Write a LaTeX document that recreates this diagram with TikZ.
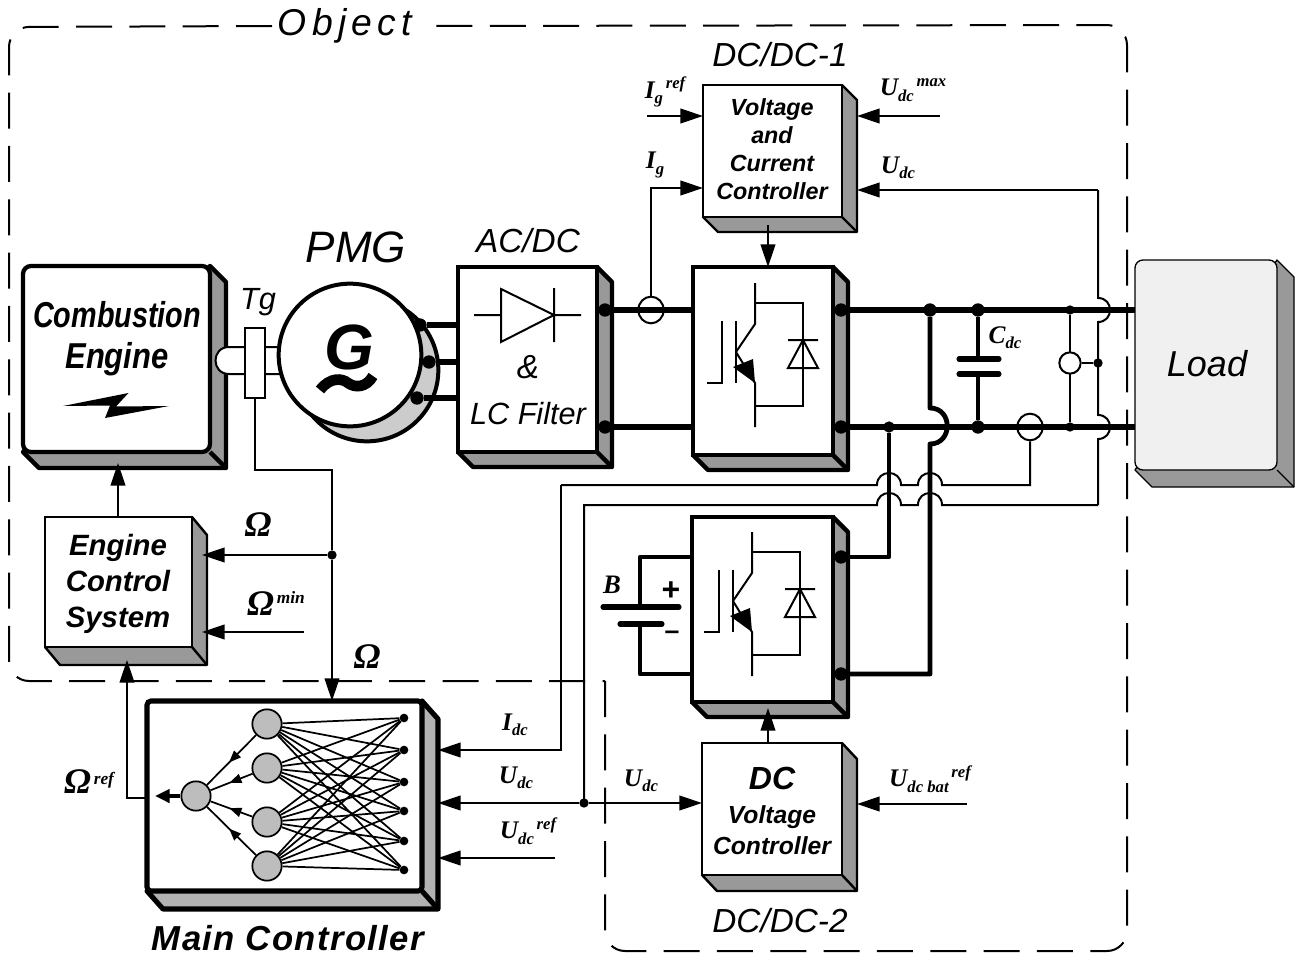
\documentclass[tikz,border=0pt]{standalone}
\usepackage{fontspec}
\setmainfont{Liberation Sans}
\newfontfamily\serifb{Liberation Serif}
\usetikzlibrary{arrows.meta,decorations.markings,shapes.geometric}
\definecolor{shade}{HTML}{999999}
\definecolor{shadelt}{HTML}{B2B2B2}
\definecolor{rotor}{HTML}{CCCCCC}
\definecolor{neuron}{HTML}{BDBDBD}
\definecolor{loadc}{HTML}{F0F0F0}
\tikzset{
  thinw/.style={line width=1.5pt},
  busw/.style={line width=4pt},
  arr/.style={thinw,-{Triangle[length=17pt,width=11pt]}},
  jdot/.style={circle,fill=black,inner sep=0pt,minimum size=#1},
  jdot/.default=9pt,
  sensor/.style={ellipse,draw,thinw,inner sep=0pt,minimum width=19pt,minimum height=20pt},
  neu/.style={circle,draw,line width=1.3pt,fill=neuron,inner sep=0pt,minimum size=22pt},
  syn/.style={line width=1.3pt},
  fwd/.style={line width=1.3pt,postaction={decorate},decoration={markings,mark=at position .55 with {\arrow{Triangle[length=9pt,width=7pt]}}}},
  ttl/.style={font=\itshape\fontsize{23}{27}\selectfont,inner sep=0pt},
  ttlb/.style={font=\itshape\fontsize{25}{27}\selectfont,inner sep=0pt},
  blk/.style={font=\bfseries\itshape,align=center,inner sep=0pt},
  sig/.style={inner sep=0pt,font=\serifb\bfseries\itshape},
  frontx/.style={},
  bnd/.style={line width=1.5pt,dash pattern=on 27pt off 13pt,rounded corners=15pt},
}
\newcommand{\threed}[9]{%
  \pgfmathsetmacro{\bw}{(#4-#2)*0.75}%
  \pgfmathsetmacro{\bh}{(#5-#3)*0.75}%
  \pgfmathsetmacro{\xa}{#4+#6}%
  \pgfmathsetmacro{\ya}{#3+#7}%
  \pgfmathsetmacro{\yb}{#5+#7}%
  \pgfmathsetmacro{\xb}{#2+#6}%
  \filldraw[fill=#9,line join=round,#8] (#4,#3)--(\xa,\ya)--(\xa,\yb)--(\xb,\yb)--(#2,#5)--cycle;
  \draw[#8] (#4,#5)--(\xa,\yb);
  \node[draw,fill=white,inner sep=0pt,outer sep=0pt,anchor=north west,minimum width=\bw pt,minimum height=\bh pt,#8,frontx] (#1) at (#2,#3) {};
}
\newcommand{\lab}[3]{{\fontsize{19}{19}\selectfont #1}\raisebox{-4pt}{\fontsize{12.5}{12}\selectfont #2}\raisebox{7pt}{\fontsize{12.5}{12}\selectfont #3}}
\newcommand{\igbt}[2]{%
\begin{scope}[shift={(#1,#2)},line width=1.5pt]
  \draw (62,16)--(62,57)--(43,85)--(62,116)--(62,160);
  \draw (62,36)--(110,36)--(110,139)--(62,139);
  \draw (43,54)--(43,116);
  \draw (29,54)--(29,116)--(14,116);
  \fill (62,116)--(40,100)--(60,92)--cycle;
  \draw (95,73)--(125,73) (110,73)--(95,101)--(125,101)--cycle;
\end{scope}}
\begin{document}
\begin{tikzpicture}[x=0.75pt,y=-0.75pt]
\useasboundingbox (0,0) rectangle (1297,956);
\fill[white] (0,0) rectangle (1297,956);
% object boundary
\node[inner sep=0pt,font=\itshape\fontsize{28}{30}\selectfont\addfontfeature{LetterSpace=14}] (obj) at (345,26) {Object};
\coordinate (bs) at (272,26);
\coordinate (be) at (424,26);
\coordinate (bc) at (605,681);
\draw[bnd] (bs)--(9,27)--(9,681)--(bc);
\draw[bnd] (bc)--(605,951)--(1127,951)--(1127,25)--(be);

% engine
\begin{scope}[frontx/.style={rounded corners=6pt}]
\threed{eng}{23}{266}{210}{452}{16}{16}{line width=3.2pt}{shade}
\end{scope}
% shaft + PMG
\draw[thinw,fill=white] (282,347)--(229,347) .. controls (211,347) and (211,374) .. (229,374)--(282,374);
\node[circle,draw,line width=3pt,fill=rotor,inner sep=0pt,outer sep=0pt,minimum size=107pt] (rot) at (367,370) {};
\node[circle,draw,line width=3pt,fill=white,inner sep=0pt,outer sep=0pt,minimum size=107pt] (gen) at (350,355) {};
\node[inner sep=0pt,font=\bfseries\itshape\fontsize{48}{50}\selectfont] (gtext) at (349,347) {G};
% alternating-current wave under the G
\draw[line width=8pt] (320,390) .. controls (330,377) and (342,378) .. (348,383) .. controls (355,388) and (366,388) .. (373,376);
\node[draw,thinw,fill=white,inner sep=0pt,outer sep=0pt,minimum width=15.5pt,minimum height=52.5pt] (tg) at (255,363) {};
\node[ttl] (tgt) at (258,302) {Tg};
\node[inner sep=0pt,font=\itshape\fontsize{33}{36}\selectfont] (pmg) at (356,247) {PMG};

% boxes
\threed{acdc}{458}{267}{597}{452}{15}{15}{line width=3.2pt}{shade}
\threed{conva}{693}{267}{833}{455}{15}{15}{line width=3.2pt}{shade}
\begin{scope}[frontx/.style={rounded corners=6pt,fill=loadc}]
\threed{load}{1135}{260}{1277}{470}{17}{17}{line width=1pt}{shade}
\end{scope}
\threed{ctla}{703}{85}{842}{217}{15}{15}{line width=1.8pt}{shade}
\threed{ecs}{45}{517}{192}{647}{15}{18}{line width=1.8pt}{shade}
\threed{convb}{692}{517}{833}{702}{15}{15}{line width=3.2pt}{shade}
\threed{ctlb}{702}{743}{842}{875}{15}{16}{line width=1.8pt}{shade}
\begin{scope}[frontx/.style={rounded corners=3pt}]
\threed{mainc}{147}{701}{422}{891}{16}{18}{line width=3.8pt}{shadelt}
\end{scope}

% three-phase link
\node[jdot=10pt] (pa) at (420,325) {};
\node[jdot=10pt] (pb) at (429,362) {};
\node[jdot=10pt] (pc) at (417,398) {};
\draw[busw] (pa)--(pa -| acdc.west);
\draw[busw] (pb)--(pb -| acdc.west);
\draw[busw] (pc)--(pc -| acdc.west);

% rectifier symbol
\draw[thinw] (474,315)--(501,315) (501,289)--(501,342)--(554,315)--cycle (554,315)--(581,315) (554,288)--(554,342);
\node[ttlb] (amp) at (528,367) {\&};
\node[ttl] (lcf) at (528,414) {LC Filter};
\node[ttlb] (acdct) at (528,241) {AC/DC};

% engine label
\node[blk,font=\bfseries\itshape\fontsize{27}{31}\selectfont] (cet) at (117,339) {\scalebox{0.8}[1]{Combustion}\\\scalebox{0.86}[1]{Engine}};
\fill (63,406)--(128.5,393)--(116,406.5)--(169,406)--(105,418)--(110,405.5)--cycle;

% dc bus
\node[jdot=10pt] (oa) at (605,310) {};
\node[jdot=10pt] (ob) at (605,427) {};
\node[jdot=10pt] (oc) at (841,310) {};
\node[jdot=10pt] (od) at (841,427) {};
\node[jdot=10pt] (oe) at (841,557) {};
\node[jdot=10pt] (of) at (841,674) {};
\node[jdot=10pt] (ja) at (930,310) {};
\node[jdot=10pt] (jb) at (978,310) {};
\node[jdot=10pt] (jc) at (978,427) {};
\node[jdot=7pt] (jd) at (1070,310) {};
\node[jdot=7pt] (je) at (1070,427) {};
\node[jdot=8.5pt] (jf) at (889,427) {};
\draw[busw] (oa)--(oa -| conva.west);
\draw[busw] (ob)--(ob -| conva.west);
\draw[busw] (oc)--(oc -| load.west);
\draw[busw] (od)--(od -| load.west);

% x=1098 voltage feedback, jumping the bus
\coordinate (ua) at (1098,505);
\coordinate (ub) at (1098,190);
\node[jdot=7pt] (jg) at (1098,363) {};
\draw[thinw,fill=none] (ub)--(1098,298) .. controls (1114,298) and (1114,322) .. (1098,322)--(1098,415) .. controls (1114,415) and (1114,439) .. (1098,439)--(ua);

% capacitor
\draw[line width=3.6pt,line join=round] (ja)--(930,408) .. controls (953,408) and (953,444) .. (930,444)--(930,674)--(of);
\draw[line width=3.6pt] (jb)--(978,359) (jc)--(978,374);
\draw[line width=3.8pt,line cap=round] (959,359)--(999,359) (959,374)--(999,374);
\node[sig,font=\serifb\bfseries\itshape] (cdc) at (1005,338) {\lab{C}{dc}{}};

% sensors
\node[sensor] (isa) at (651,310) {};
\draw[arr] (isa.north) |- (ctla.west |- 0,188);
\draw[thinw] (jd)--(je);
\node[sensor,minimum width=16pt,minimum height=16pt,fill=white] (vs) at (1070,363) {};
\draw[thinw] (vs)--(jg);
\node[sensor] (isb) at (1030,427) {};

% second converter links
\draw[line width=3.6pt,line join=round] (jf)--(889,557)--(oe);

% idc and udc feedback wires
\coordinate (mia) at (438,750);
\coordinate (mib) at (438,803);
\coordinate (mic) at (438,858);
\draw[arr] (561,485)--(561,750)--(mia);
\draw[thinw] (561,485)--(877,485) .. controls (877,469) and (901,469) .. (901,485)--(918,485) .. controls (918,469) and (942,469) .. (942,485)--(1030,485)--(isb.south);
\draw[thinw] (584,803)--(584,505)--(877,505) .. controls (877,489) and (901,489) .. (901,505)--(918,505) .. controls (918,489) and (942,489) .. (942,505)--(ua);
\node[jdot=7pt] (jh) at (584,803) {};
\draw[arr] (jh)--(mib);
\draw[arr] (jh)--(ctlb.west |- jh);
\coordinate (urs) at (555,858);
\draw[arr] (urs)--(mic);

% top controller signals
\coordinate (ira) at (647,116);
\coordinate (uma) at (940,116);
\draw[arr] (ira)--(ctla.west |- ira);
\draw[arr] (uma)--(857,116);
\draw[arr] (ub)--(857,190);
\coordinate (cda) at (768,225);
\draw[arr] (cda)--(conva.north -| cda);
\node[sig] (ig1) at (665,92) {\lab{I}{g}{\,ref}};
\node[sig] (ig2) at (655,165) {\lab{I}{g}{}};
\node[sig] (um) at (913,90) {\lab{U}{dc}{\,max}};
\node[sig] (ud1) at (898,168) {\lab{U}{dc}{}};
\node[ttlb] (dd1) at (780,55) {DC/DC-1};
\node[blk,font=\bfseries\itshape\fontsize{17.5}{21}\selectfont] (vcc) at (772,149) {Voltage\\and\\Current\\Controller};

% engine and controller links
\draw[arr] (ecs.north -| 118,0)--(118,463);
\coordinate (wa) at (255,470);
\node[jdot=7pt] (ji) at (332,555) {};
\draw[thinw] (tg.south)--(wa)--(332,470)--(ji);
\draw[arr] (ji)--(202,555);
\draw[arr] (ji)--(332,701);
\coordinate (omn) at (304,632);
\draw[arr] (omn)--(202,632);
\node[sig,font=\serifb\bfseries\itshape\fontsize{27}{27}\selectfont] (om1) at (258,525) {Ω};
\node[sig] (om2) at (276,603) {{\fontsize{27}{27}\selectfont Ω}\raisebox{9pt}{\fontsize{13}{13}\selectfont\,min}};
\node[sig,font=\serifb\bfseries\itshape\fontsize{27}{27}\selectfont] (om3) at (367,657) {Ω};
\node[sig] (om4) at (89,782) {{\fontsize{27}{27}\selectfont Ω}\raisebox{7pt}{\fontsize{13}{13}\selectfont\,ref}};
\node[blk,font=\bfseries\itshape\fontsize{22}{27}\selectfont] (ecst) at (118,584) {Engine\\Control\\System};
\coordinate (omr) at (147,798);
\draw[arr] (omr)--(127,798)--(127,660);

% converters
\igbt{693}{267}
\igbt{690}{516}
\coordinate (cdb) at (768,743);
\draw[arr] (cdb)--(768,708);
\node[ttlb] (dd2) at (780,921) {DC/DC-2};
\node[blk,font=\bfseries\itshape\fontsize{24}{27}\selectfont] (dcv) at (772,778) {DC};
\node[blk,font=\bfseries\itshape\fontsize{18.5}{23}\selectfont] (dcv2) at (772,830) {Voltage\\Controller};
\coordinate (ubr) at (967,804);
\draw[arr] (ubr)--(857,804);
\node[sig] (ubt) at (930,779) {\lab{U}{dc bat}{\,ref}};
\node[sig] (uidc) at (515,725) {\lab{I}{dc}{}};
\node[sig] (uudc) at (516,778) {\lab{U}{dc}{}};
\node[sig] (uref) at (528,831) {\lab{U}{dc}{\,ref}};
\node[sig] (uudb) at (641,781) {\lab{U}{dc}{}};

% battery
\draw[line width=3.6pt,line join=round] (convb.west |- oe)--(640,557)--(640,607);
\draw[line width=3.6pt,line join=round] (640,624)--(640,674)--(convb.west |- of);
\draw[line width=3.8pt,line cap=round] (603,607)--(679,607) (620,624)--(662,624);
\node[sig,font=\serifb\bfseries\itshape\fontsize{20}{20}\selectfont] (bat) at (612,585) {B};
\node[inner sep=0pt,font=\bfseries\fontsize{24}{24}\selectfont] (plus) at (671,591) {+};
\node[inner sep=0pt,font=\bfseries\fontsize{20}{20}\selectfont] (minus) at (672,635) {–};

% load
\node[inner sep=0pt,font=\itshape\fontsize{27}{30}\selectfont] (lt) at (1207,364) {Load};

% neural net
\node[neu] (no) at (196,796) {};
\node[neu] (h1) at (267,724) {};
\node[neu] (h2) at (267,768) {};
\node[neu] (h3) at (267,822) {};
\node[neu] (h4) at (267,866) {};
\node[jdot=6.5pt] (i1) at (404,718) {};
\node[jdot=6.5pt] (i2) at (404,750) {};
\node[jdot=6.5pt] (i3) at (404,782) {};
\node[jdot=6.5pt] (i4) at (404,811) {};
\node[jdot=6.5pt] (i5) at (404,841) {};
\node[jdot=6.5pt] (i6) at (404,870) {};
\foreach \h in {h1,h2,h3,h4}{
  \foreach \i in {i1,i2,i3,i4,i5,i6}{\draw[syn] (\h)--(\i);}
  \draw[fwd] (\h)--(no);
}
\draw[line width=2.6pt,-{Triangle[length=11pt,width=10pt]}] (no)--(155,796);
\node[inner sep=0pt,font=\bfseries\itshape\fontsize{26}{28}\selectfont\addfontfeature{LetterSpace=4}] (mct) at (288,938) {Main Controller};
\end{tikzpicture}
\end{document}
